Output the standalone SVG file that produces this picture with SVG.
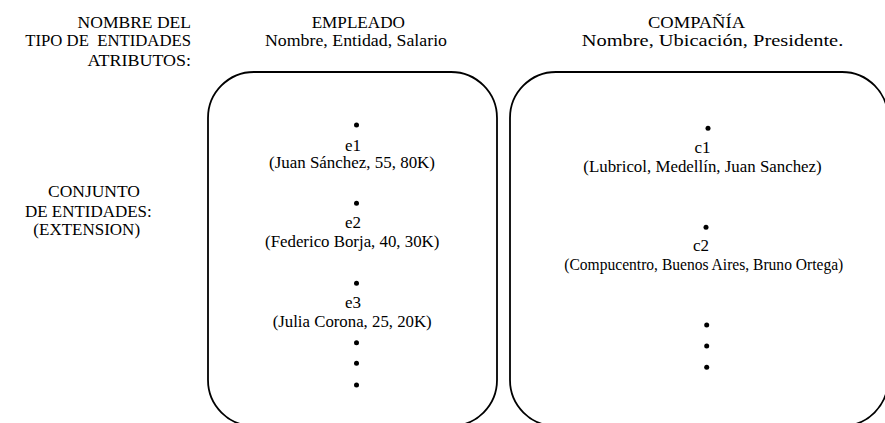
<svg xmlns="http://www.w3.org/2000/svg" width="885" height="423" viewBox="0 0 885 423">
<style>
text{font-size:17.5px;fill:#000}
.s{font-size:17px}
.r{text-anchor:end}
.m{text-anchor:middle}
.box{fill:none;stroke:#000;stroke-width:1.8}
.dot{fill:#000}
</style>
<rect width="885" height="423" fill="#fff"/>
<g font-family="Liberation Serif, Times New Roman, DejaVu Serif, serif">
<g id="labels">
<text class="r" x="191" y="27.5" textLength="113.4" lengthAdjust="spacingAndGlyphs">NOMBRE DEL</text>
<text class="r" x="191" y="46" style="white-space:pre" xml:space="preserve" textLength="165.7" lengthAdjust="spacingAndGlyphs">TIPO DE  ENTIDADES</text>
<text class="r" x="191" y="65.5" textLength="103.4" lengthAdjust="spacingAndGlyphs">ATRIBUTOS:</text>
<text class="m" x="94" y="197" textLength="92" lengthAdjust="spacingAndGlyphs">CONJUNTO</text>
<text class="m" x="88.3" y="216.5" textLength="126.7" lengthAdjust="spacingAndGlyphs">DE ENTIDADES:</text>
<text class="m" x="86.7" y="235" textLength="106.7" lengthAdjust="spacingAndGlyphs">(EXTENSION)</text>
</g>
<g id="empleado">
<text class="m" x="358.3" y="27.5" textLength="93.3" lengthAdjust="spacingAndGlyphs">EMPLEADO</text>
<text class="m" x="356" y="46" textLength="182" lengthAdjust="spacingAndGlyphs">Nombre, Entidad, Salario</text>
<rect class="box" x="208" y="72" width="289" height="354" rx="46" ry="46"/>
<circle class="dot" cx="356.5" cy="125" r="2.5"/>
<text class="m s" x="353" y="150.5">e1</text>
<text class="m s" x="352" y="168" textLength="166" lengthAdjust="spacingAndGlyphs">(Juan Sánchez, 55, 80K)</text>
<circle class="dot" cx="356.5" cy="203.3" r="2.5"/>
<text class="m s" x="353" y="228.3">e2</text>
<text class="m s" x="352.2" y="246.7" textLength="174.3" lengthAdjust="spacingAndGlyphs">(Federico Borja, 40, 30K)</text>
<circle class="dot" cx="356.5" cy="283.3" r="2.5"/>
<text class="m s" x="353" y="307.7">e3</text>
<text class="m s" x="352.2" y="326.7" textLength="159" lengthAdjust="spacingAndGlyphs">(Julia Corona, 25, 20K)</text>
<circle class="dot" cx="356.5" cy="342.7" r="2.5"/>
<circle class="dot" cx="356.5" cy="363.3" r="2.5"/>
<circle class="dot" cx="356.5" cy="385" r="2.5"/>
</g>
<g id="compania">
<text class="m" x="696.5" y="27.5" textLength="97" lengthAdjust="spacingAndGlyphs">COMPAÑÍA</text>
<text class="m" x="712.5" y="46" textLength="261.6" lengthAdjust="spacingAndGlyphs">Nombre, Ubicación, Presidente.</text>
<rect class="box" x="510" y="72" width="378" height="354" rx="46" ry="46"/>
<circle class="dot" cx="708" cy="128.3" r="2.5"/>
<text class="m s" x="702.5" y="152.5">c1</text>
<text class="m s" x="702.5" y="171.5" textLength="238.4" lengthAdjust="spacingAndGlyphs">(Lubricol, Medellín, Juan Sanchez)</text>
<circle class="dot" cx="706" cy="227.3" r="2.5"/>
<text class="m s" x="701" y="251">c2</text>
<text class="m" x="703.8" y="270" style="font-size:16px" textLength="279" lengthAdjust="spacingAndGlyphs">(Compucentro, Buenos Aires, Bruno Ortega)</text>
<circle class="dot" cx="706.7" cy="325" r="2.5"/>
<circle class="dot" cx="706.7" cy="346" r="2.5"/>
<circle class="dot" cx="706.7" cy="367.3" r="2.5"/>
</g>
</g>
<g id="connectors"></g>
</svg>
